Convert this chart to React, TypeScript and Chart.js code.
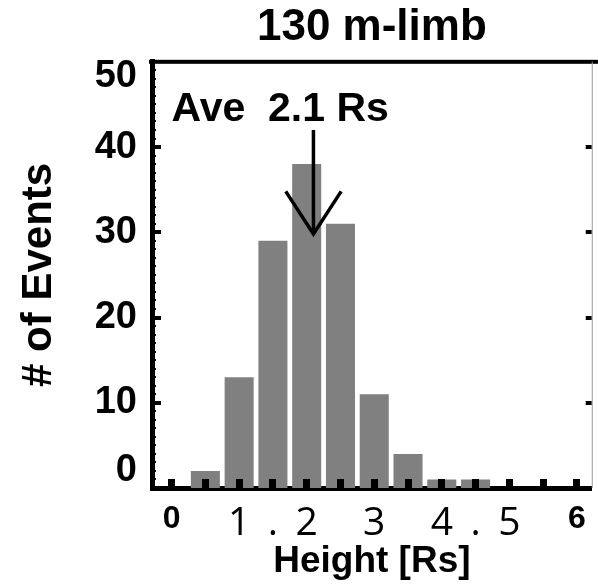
import React, { useEffect, useRef } from "react";
import { Chart, registerables } from "chart.js";

Chart.register(...registerables);

// ---- data ----
const binCenters = [0, 0.5, 1, 1.5, 2, 2.5, 3, 3.5, 4, 4.5, 5, 5.5, 6];
const eventCounts = [0, 2, 13, 29, 38, 31, 11, 4, 1, 1, 0, 0, 0];
const xTickValues = [0, 0.5, 1, 1.5, 2, 2.5, 3, 3.5, 4, 4.5, 5, 5.5, 6];
const xTickLabels = ["0", "", "1", ".", "2", "", "3", "", "4", ".", "5", "", "6"];
const yTickValues = [0, 10, 20, 30, 40, 50];
const chartTitle = "130 m-limb";
const xTitle = "Height [Rs]";
const yTitle = "# of Events";
const averageHeight = 2.1;
const annotationText = "Ave  2.1 Rs";
const annotationAnchor = { x: 0, y: 43 };
const arrowTopValue = 42;
const arrowTipValue = 29.8;
const arrowHeadValue = 34.8;
const arrowHeadHalfWidth = 0.41;

const FONT = '"Liberation Sans", Arial, Helvetica, sans-serif';

const decorPlugin = {
  id: "decor",
  afterDatasetsDraw(chart: any) {
    const { ctx, chartArea, scales } = chart;
    const { left, right, top, bottom } = chartArea;
    const xs = scales.x;
    const ys = scales.y;
    ctx.save();
    ctx.fillStyle = "#000";
    // bottom inward ticks
    xTickValues.forEach((v) => {
      const px = xs.getPixelForValue(v);
      ctx.fillRect(Math.round(px - 3.5), bottom - 9, 7, 9);
    });
    // left inward ticks
    for (let v = 1; v < 50; v++) {
      const py = ys.getPixelForValue(v);
      if (v % 10 === 0) {
        ctx.fillRect(left, Math.round(py - 2), 9, 4);
      } else {
        ctx.fillRect(left, Math.round(py - 1), 4, 2);
      }
    }
    // right inward ticks
    yTickValues.forEach((v) => {
      if (v > 0 && v < 50) {
        const py = ys.getPixelForValue(v);
        ctx.fillRect(right - 6, Math.round(py - 2), 6, 4);
      }
    });
    // top border
    ctx.fillRect(left - 3, top - 2, chart.width - left + 3, 4);
    // right border
    ctx.strokeStyle = "#999";
    ctx.lineWidth = 1;
    ctx.beginPath();
    ctx.moveTo(right + 0.5, top);
    ctx.lineTo(right + 0.5, bottom);
    ctx.stroke();

    // average arrow
    const ax = xs.getPixelForValue(averageHeight);
    ctx.strokeStyle = "#000";
    ctx.lineWidth = 3.5;
    ctx.beginPath();
    ctx.moveTo(ax, ys.getPixelForValue(arrowTopValue));
    ctx.lineTo(ax, ys.getPixelForValue(arrowTipValue));
    ctx.stroke();
    ctx.beginPath();
    ctx.moveTo(xs.getPixelForValue(averageHeight - arrowHeadHalfWidth), ys.getPixelForValue(arrowHeadValue));
    ctx.lineTo(ax, ys.getPixelForValue(arrowTipValue));
    ctx.lineTo(xs.getPixelForValue(averageHeight + arrowHeadHalfWidth), ys.getPixelForValue(arrowHeadValue));
    ctx.stroke();

    // annotation text
    ctx.font = `bold 41px ${FONT}`;
    ctx.textAlign = "left";
    ctx.textBaseline = "alphabetic";
    ctx.fillText(annotationText, xs.getPixelForValue(annotationAnchor.x), ys.getPixelForValue(annotationAnchor.y));
    ctx.restore();
  },
};

export default function App() {
  const ref = useRef<HTMLCanvasElement | null>(null);
  useEffect(() => {
    if (!ref.current) return;
    const chart = new Chart(ref.current, {
      type: "bar",
      data: {
        datasets: [
          {
            data: binCenters.map((x, i) => ({ x, y: eventCounts[i] })),
            backgroundColor: "#808080",
            borderWidth: 0,
            barPercentage: 0.86,
            categoryPercentage: 1,
          },
        ],
      },
      options: {
        animation: false,
        responsive: false,
        devicePixelRatio: 1,
        layout: { padding: { left: 0, right: 1, top: 0, bottom: 0 } },
        plugins: {
          legend: { display: false },
          tooltip: { enabled: false },
          title: {
            display: true,
            text: chartTitle,
            fullSize: false,
            color: "#000",
            font: { family: FONT, size: 44, weight: "bold" },
            padding: { top: 1, bottom: 8 },
          },
        },
        scales: {
          x: {
            type: "linear",
            offset: false,
            min: -0.29,
            max: 6.22,
            grid: { display: false, drawTicks: false, tickLength: 0, offset: false },
            border: { display: true, width: 5, color: "#000" },
            afterBuildTicks: (scale: any) => {
              scale.ticks = xTickValues.map((v) => ({ value: v }));
            },
            ticks: {
              autoSkip: false,
              maxRotation: 0,
              padding: 12,
              color: "#000",
              callback: (value: any) => {
                const i = xTickValues.indexOf(Number(value));
                return i >= 0 ? xTickLabels[i] : "";
              },
              font: (ctx: any) => {
                const v = ctx.tick ? ctx.tick.value : 0;
                if (v === 0 || v === 6) return { family: FONT, size: 32, weight: "bold" };
                return { family: '"Open Sans", sans-serif', size: 39, weight: "normal" };
              },
            },
            title: {
              display: true,
              text: xTitle,
              color: "#000",
              font: { family: FONT, size: 37, weight: "bold" },
              padding: { top: 0, bottom: 0 },
            },
            afterFit: (scale: any) => {
              scale.height = 96;
            },
          },
          y: {
            min: 0,
            max: 50,
            grid: { display: false, drawTicks: false, tickLength: 0 },
            border: { display: true, width: 5, color: "#000" },
            afterBuildTicks: (scale: any) => {
              scale.ticks = yTickValues.map((v) => ({ value: v }));
            },
            ticks: {
              padding: 15,
              color: "#000",
              callback: (value: any) => {
                const v = Number(value);
                if (v === 0) return ["0", ""];
                if (v === 50) return ["", "50"];
                return String(v);
              },
              font: (ctx: any) => {
                const v = ctx.tick ? ctx.tick.value : 10;
                if (v === 0) return { family: FONT, size: 38, weight: "bold", lineHeight: "34px" };
                if (v === 50) return { family: FONT, size: 38, weight: "bold", lineHeight: "30px" };
                return { family: FONT, size: 38, weight: "bold" };
              },
            },
            title: {
              display: true,
              text: yTitle,
              color: "#000",
              font: { family: FONT, size: 42, weight: "bold" },
              padding: { top: 14, bottom: 0 },
            },
            afterFit: (scale: any) => {
              scale.width = 152;
            },
          },
        },
      },
      plugins: [decorPlugin],
    } as any);
    return () => chart.destroy();
  }, []);
  return (
    <div style={{ position: "fixed", left: 0, top: 0, width: 598, height: 584, background: "#fff" }}>
      <canvas ref={ref} width={598} height={584} />
    </div>
  );
}
